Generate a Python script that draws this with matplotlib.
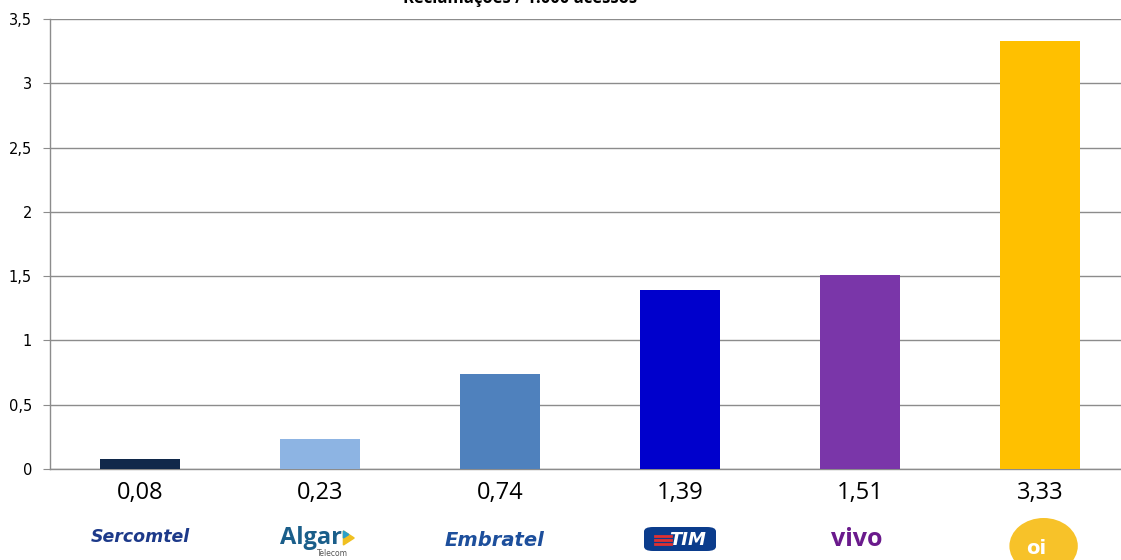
import matplotlib
matplotlib.use("Agg")
import matplotlib.pyplot as plt
from matplotlib.patches import FancyBboxPatch, Ellipse, Polygon

operators = ["Sercomtel", "Algar", "Embratel", "TIM", "Vivo", "Oi"]
values = [0.08, 0.23, 0.74, 1.39, 1.51, 3.33]
value_labels = ["0,08", "0,23", "0,74", "1,39", "1,51", "3,33"]
colors = ["#10284a", "#8db4e3", "#4f81bd", "#0000cc", "#7a36a9", "#ffc000"]
yticks = [0, 0.5, 1, 1.5, 2, 2.5, 3, 3.5]
ytick_labels = ["0", "0,5", "1", "1,5", "2", "2,5", "3", "3,5"]
title = "Reclamações / 1.000 acessos"

W, H = 1121, 560
fig = plt.figure(figsize=(W / 100, H / 100), dpi=100)
ax = fig.add_axes([50 / W, (H - 469) / H, 1080 / W, 450 / H])

x = list(range(len(operators)))
ax.bar(x, values, width=0.445, color=colors, zorder=3)
ax.set_xlim(-0.5, 5.5)
ax.set_ylim(0, 3.5)
ax.set_yticks(yticks)
ax.set_yticklabels(ytick_labels, fontsize=10.5, family="DejaVu Sans")
ax.set_xticks([])
ax.yaxis.grid(True, color="#8c8c8c", linewidth=1, zorder=0)
for s in ["top", "right"]:
    ax.spines[s].set_visible(False)
for s in ["left", "bottom"]:
    ax.spines[s].set_color("#8c8c8c")
    ax.spines[s].set_linewidth(1)
ax.tick_params(axis="y", length=5, color="#8c8c8c", pad=8)

# title (partly cut off at the top in the reference)
fig.text(520 / W, 1 - 3 / H, title, ha="center", va="baseline", fontsize=12,
         fontweight="bold", family="Open Sans", color="#000000")

tr = ax.get_xaxis_transform()
def ay(py):
    return (469 - py) / 450

for i, lab in enumerate(value_labels):
    ax.text(i, ay(493), lab, transform=tr, ha="center", va="center",
            fontsize=17, family="Open Sans", clip_on=False)

# logos as styled text
ax.text(0, ay(537), "Sercomtel", transform=tr, ha="center", va="center",
        fontsize=12.5, fontweight="heavy", style="italic", color="#1d3a8a",
        family="DejaVu Sans", clip_on=False)
ax.text(1 - 0.05, ay(538), "Algar", transform=tr, ha="center", va="center",
        fontsize=17, fontweight="bold", color="#1a5e8a", family="Open Sans",
        clip_on=False)
ax.text(1 + 0.07, ay(553), "Telecom", transform=tr, ha="center", va="center",
        fontsize=5.5, color="#555555", family="DejaVu Sans", clip_on=False)
ax.add_patch(Polygon([[1 + 0.13, ay(531)], [1 + 0.13, ay(545)], [1 + 0.19, ay(538)]],
                     closed=True, transform=tr, color="#f0c020", clip_on=False))
ax.add_patch(Polygon([[1 + 0.13, ay(531)], [1 + 0.13, ay(538)], [1 + 0.16, ay(534.5)]],
                     closed=True, transform=tr, color="#2aa0c8", clip_on=False))
ax.text(2 - 0.03, ay(541), "Embratel", transform=tr, ha="center", va="center",
        fontsize=14, fontweight="bold", style="italic", color="#1d4f9c",
        family="DejaVu Sans Condensed", clip_on=False)
ax.add_patch(FancyBboxPatch((3 - 0.2, ay(551)), 0.4, (24) / 450,
                            boxstyle="round,pad=0,rounding_size=0.05",
                            transform=tr, facecolor="#0b3c8c", edgecolor="none",
                            clip_on=False, mutation_aspect=0.2))
ax.text(3 + 0.04, ay(540), "TIM", transform=tr, ha="center", va="center",
        fontsize=13, fontweight="bold", style="italic", color="white",
        family="DejaVu Sans", clip_on=False)
for k, dy in enumerate([-4, 0, 4]):
    ax.plot([3 - 0.14, 3 - 0.05], [ay(540 + dy), ay(540 + dy)], transform=tr,
            color="#e03030", linewidth=2, clip_on=False)
ax.text(4 - 0.02, ay(539), "vivo", transform=tr, ha="center", va="center",
        fontsize=18, fontweight="bold", color="#6a1a8c", family="Open Sans",
        clip_on=False)
ax.add_patch(Ellipse((5 + 0.02, ay(546)), 0.38, 56 / 450, transform=tr,
                     facecolor="#f7c229", edgecolor="none", clip_on=False))
ax.text(5 - 0.02, ay(549), "oi", transform=tr, ha="center", va="center",
        fontsize=14, fontweight="bold", color="white", family="DejaVu Sans",
        clip_on=False)

fig.savefig("out.png", dpi=100)
